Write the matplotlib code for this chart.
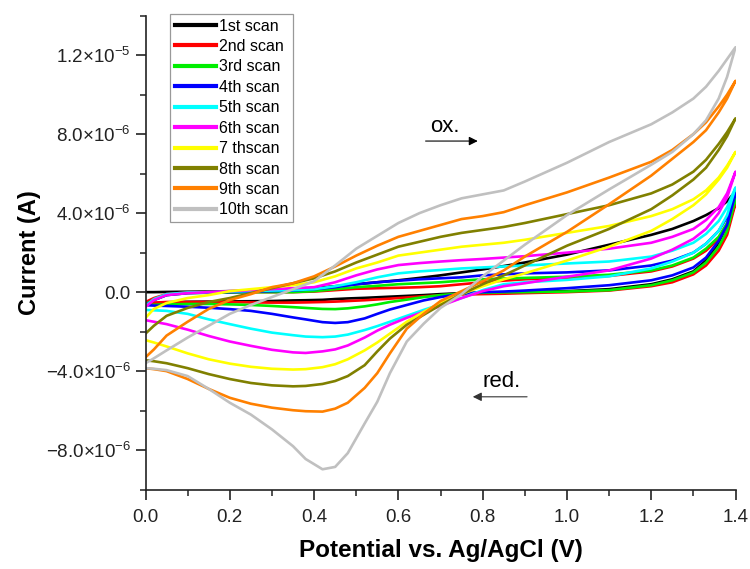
import numpy as np
import matplotlib
matplotlib.use("Agg")
import matplotlib.pyplot as plt
from matplotlib.ticker import FixedLocator, FuncFormatter

plt.rcParams["font.family"] = ["Liberation Sans", "DejaVu Sans"]
plt.rcParams["mathtext.fontset"] = "custom"
plt.rcParams["mathtext.rm"] = "Liberation Sans"
plt.rcParams["mathtext.it"] = "Liberation Sans:italic"
plt.rcParams["mathtext.bf"] = "Liberation Sans:bold"

# potential (V) at which the forward / reverse branches were read
E_fwd = [0.0, 0.02, 0.05, 0.1, 0.15, 0.2, 0.25, 0.3, 0.35, 0.4, 0.45, 0.5, 0.55, 0.6,
         0.65, 0.7, 0.75, 0.8, 0.85, 0.9, 1.0, 1.1, 1.2, 1.25, 1.3, 1.33, 1.36, 1.38, 1.4]
E_rev = [0.0, 0.02, 0.05, 0.1, 0.15, 0.2, 0.25, 0.3, 0.35, 0.38, 0.42, 0.45, 0.48, 0.52,
         0.55, 0.58, 0.62, 0.66, 0.7, 0.75, 0.8, 0.85, 0.9, 1.0, 1.1, 1.2, 1.25, 1.3, 1.33,
         1.36, 1.38, 1.4]

labels = ["1st scan", "2nd scan", "3rd scan", "4th scan", "5th scan",
          "6th scan", "7 thscan", "8th scan", "9th scan", "10th scan"]
colors = ["#000000", "#ff0000", "#00ee00", "#0000ff", "#00ffff",
          "#ff00ff", "#ffff00", "#808000", "#ff8000", "#c0c0c0"]

# forward (oxidation) branches, current in uA
fwd = [
    [0.0, 0.0, 0.01, 0.02, 0.03, 0.05, 0.07, 0.1, 0.13, 0.2, 0.3, 0.4, 0.5, 0.6, 0.72,
     0.85, 1.0, 1.15, 1.32, 1.5, 1.9, 2.4, 2.9, 3.2, 3.6, 3.9, 4.25, 4.6, 5.1],
    [-0.5, -0.3, -0.1, -0.02, 0.0, 0.0, 0.0, 0.0, 0.0, 0.03, 0.1, 0.17, 0.2, 0.22, 0.25,
     0.3, 0.4, 0.5, 0.58, 0.65, 0.72, 0.82, 1.05, 1.3, 1.7, 2.1, 2.7, 3.3, 4.5],
    [-0.6, -0.4, -0.15, -0.05, -0.03, -0.02, 0.0, 0.0, 0.0, 0.05, 0.15, 0.25, 0.32, 0.4, 0.45,
     0.5, 0.58, 0.65, 0.69, 0.72, 0.78, 0.88, 1.1, 1.35, 1.75, 2.2, 2.8, 3.5, 4.7],
    [-0.65, -0.4, -0.15, -0.05, -0.02, 0.0, 0.02, 0.05, 0.08, 0.15, 0.25, 0.4, 0.5, 0.58, 0.65,
     0.7, 0.75, 0.85, 0.9, 0.95, 1.0, 1.1, 1.35, 1.6, 2.0, 2.45, 3.1, 3.8, 5.0],
    [-0.7, -0.35, -0.1, -0.02, 0.0, 0.03, 0.05, 0.08, 0.1, 0.15, 0.3, 0.5, 0.75, 0.95, 1.05,
     1.12, 1.2, 1.25, 1.3, 1.35, 1.45, 1.55, 1.8, 2.1, 2.5, 2.95, 3.6, 4.3, 5.3],
    [-0.75, -0.4, -0.15, -0.05, 0.0, 0.05, 0.1, 0.15, 0.2, 0.25, 0.5, 0.85, 1.15, 1.37, 1.47,
     1.55, 1.62, 1.68, 1.75, 1.82, 2.0, 2.2, 2.5, 2.8, 3.2, 3.65, 4.3, 5.0, 6.1],
    [-1.3, -0.85, -0.55, -0.3, -0.15, 0.05, 0.15, 0.25, 0.35, 0.5, 0.8, 1.2, 1.5, 1.85, 2.0,
     2.15, 2.3, 2.4, 2.5, 2.65, 3.0, 3.35, 3.85, 4.2, 4.7, 5.15, 5.8, 6.4, 7.1],
    [-2.1, -1.7, -1.2, -0.8, -0.5, -0.3, -0.05, 0.2, 0.45, 0.7, 1.05, 1.5, 1.9, 2.3, 2.55,
     2.8, 3.0, 3.15, 3.3, 3.5, 3.95, 4.4, 5.0, 5.45, 6.1, 6.7, 7.5, 8.1, 8.8],
    [-3.3, -2.9, -2.2, -1.5, -0.85, -0.4, -0.1, 0.25, 0.45, 0.8, 1.3, 1.85, 2.35, 2.8, 3.1,
     3.4, 3.7, 3.85, 4.05, 4.4, 5.05, 5.8, 6.6, 7.2, 8.0, 8.6, 9.4, 10.0, 10.7],
    [-3.6, -3.35, -2.95, -2.3, -1.7, -1.1, -0.65, -0.25, 0.15, 0.55, 1.35, 2.2, 2.85, 3.5, 4.0,
     4.4, 4.75, 4.95, 5.15, 5.6, 6.55, 7.6, 8.5, 9.1, 9.8, 10.4, 11.2, 11.8, 12.4],
]

# reverse (reduction) branches, current in uA, listed from 0 V upward
rev = [
    [-0.6, -0.56, -0.52, -0.49, -0.48, -0.47, -0.46, -0.45, -0.42, -0.41, -0.39, -0.35, -0.32,
     -0.29, -0.26, -0.23, -0.19, -0.15, -0.1, -0.05, -0.03, -0.01, 0.0, 0.05, 0.15, 0.4, 0.65,
     1.05, 1.6, 2.5, 3.4, 5.1],
    [-0.55, -0.53, -0.5, -0.5, -0.5, -0.5, -0.52, -0.53, -0.53, -0.52, -0.5, -0.48, -0.45,
     -0.41, -0.37, -0.33, -0.27, -0.21, -0.16, -0.12, -0.1, -0.08, -0.05, 0.0, 0.08, 0.3, 0.5,
     0.9, 1.35, 2.1, 2.9, 4.5],
    [-0.65, -0.64, -0.62, -0.6, -0.6, -0.62, -0.65, -0.7, -0.76, -0.8, -0.85, -0.86, -0.82,
     -0.72, -0.62, -0.5, -0.38, -0.25, -0.15, -0.07, -0.03, -0.01, 0.0, 0.03, 0.1, 0.35, 0.6,
     1.0, 1.5, 2.3, 3.1, 4.7],
    [-0.66, -0.68, -0.7, -0.74, -0.79, -0.86, -0.95, -1.1, -1.28, -1.38, -1.52, -1.56, -1.52,
     -1.33, -1.1, -0.88, -0.65, -0.42, -0.25, -0.08, 0.0, 0.03, 0.08, 0.2, 0.35, 0.6, 0.85,
     1.25, 1.75, 2.6, 3.4, 5.0],
    [-0.9, -0.92, -0.95, -1.1, -1.38, -1.62, -1.85, -2.05, -2.18, -2.25, -2.28, -2.25, -2.15,
     -1.92, -1.72, -1.5, -1.2, -0.9, -0.62, -0.3, 0.1, 0.4, 0.5, 0.62, 0.8, 1.2, 1.55,
     2.0, 2.45, 3.1, 3.9, 5.3],
    [-1.42, -1.5, -1.62, -1.9, -2.22, -2.5, -2.72, -2.92, -3.05, -3.08, -3.0, -2.9, -2.7,
     -2.3, -1.95, -1.65, -1.3, -1.0, -0.7, -0.3, 0.05, 0.3, 0.45, 0.78, 1.1, 1.7, 2.15,
     2.7, 3.2, 4.0, 4.8, 6.1],
    [-2.43, -2.55, -2.75, -3.1, -3.4, -3.62, -3.78, -3.88, -3.92, -3.9, -3.8, -3.65, -3.4,
     -2.95, -2.55, -2.1, -1.5, -1.0, -0.55, -0.1, 0.3, 0.65, 0.95, 1.6, 2.3, 3.1, 3.7,
     4.4, 4.95, 5.7, 6.3, 7.1],
    [-3.45, -3.5, -3.6, -3.85, -4.15, -4.4, -4.6, -4.72, -4.77, -4.75, -4.65, -4.5, -4.25,
     -3.7, -3.0, -2.35, -1.65, -1.15, -0.65, -0.1, 0.4, 0.85, 1.35, 2.35, 3.2, 4.2, 4.9,
     5.7, 6.3, 7.2, 7.9, 8.8],
    [-3.85, -3.9, -4.0, -4.4, -4.9, -5.35, -5.65, -5.85, -5.98, -6.03, -6.05, -5.9, -5.6,
     -4.85, -4.1, -3.1, -1.85, -1.1, -0.45, 0.05, 0.55, 1.1, 1.8, 3.05, 4.45, 5.9, 6.75,
     7.6, 8.2, 9.1, 9.8, 10.7],
    [-3.85, -3.88, -3.95, -4.25, -4.9, -5.6, -6.2, -6.95, -7.8, -8.45, -8.97, -8.85, -8.15,
     -6.65, -5.55, -4.1, -2.5, -1.6, -0.8, -0.1, 0.8, 1.6, 2.4, 3.9, 5.2, 6.45, 7.1,
     8.0, 8.7, 9.8, 10.9, 12.4],
]

fig = plt.figure(figsize=(7.5, 5.69), dpi=100)
ax = fig.add_axes([0.194, 0.1395, 0.7867, 0.833])

for f, r, c, lab in zip(fwd, rev, colors, labels):
    x = np.concatenate([E_fwd, E_rev[::-1][1:]])
    y = np.concatenate([f, r[::-1][1:]]) * 1e-6
    ax.plot(x, y, color=c, lw=1.9, label=lab, solid_joinstyle="round")

ax.set_xlim(0, 1.4)
ax.set_ylim(-1.0e-5, 1.4e-5)

ax.xaxis.set_major_locator(FixedLocator(np.arange(0, 1.41, 0.2)))
ax.xaxis.set_minor_locator(FixedLocator(np.arange(0.1, 1.4, 0.2)))
ax.yaxis.set_major_locator(FixedLocator(np.arange(-8e-6, 1.3e-5, 4e-6)))
ax.yaxis.set_minor_locator(FixedLocator(np.arange(-1e-5, 1.5e-5, 4e-6)))


def sci(v, pos):
    if abs(v) < 1e-12:
        return "0.0"
    exp = int(np.floor(np.log10(abs(v))))
    mant = v / 10 ** exp
    return r"$\mathregular{%.1f{\times}10^{%d}}$" % (mant, exp)


ax.yaxis.set_major_formatter(FuncFormatter(sci))
ax.xaxis.set_major_formatter(FuncFormatter(lambda v, p: "%.1f" % v))

for s in ["top", "right"]:
    ax.spines[s].set_visible(False)
for s in ["left", "bottom"]:
    ax.spines[s].set_linewidth(1.2)
    ax.spines[s].set_color("#222222")
ax.tick_params(which="major", length=7, width=1.2, labelsize=13.5,
               colors="#222222", direction="out")
ax.tick_params(which="minor", length=4, width=1.1, colors="#222222", direction="out")
ax.tick_params(axis="x", pad=7)

ax.set_xlabel("Potential vs. Ag/AgCl (V)", fontsize=17.5, fontweight="bold", labelpad=9)
ax.set_ylabel("Current (A)", fontsize=17, fontweight="bold", labelpad=3)

# scan direction marks
ax.text(0.71, 8.4e-6, "ox.", fontsize=16, ha="center", va="center")
ax.annotate("", xy=(0.795, 7.65e-6), xytext=(0.658, 7.65e-6),
            arrowprops=dict(arrowstyle="-|>", color="k", lw=0.8, mutation_scale=13))
ax.text(0.845, -4.55e-6, "red.", fontsize=16, ha="center", va="center")
ax.annotate("", xy=(0.77, -5.3e-6), xytext=(0.912, -5.3e-6),
            arrowprops=dict(arrowstyle="-|>", color="#333333", lw=0.8, mutation_scale=13))

leg = ax.legend(loc="upper left", bbox_to_anchor=(0.0415, 1.004), fontsize=11.5,
                frameon=True, fancybox=False, edgecolor="#999999", framealpha=1,
                handlelength=2.55, handletextpad=0.2, labelspacing=0.34,
                borderpad=0.3, borderaxespad=0)
leg.get_frame().set_linewidth(0.9)
for h in leg.get_lines():
    h.set_linewidth(3)

fig.savefig("out.png", dpi=100)
